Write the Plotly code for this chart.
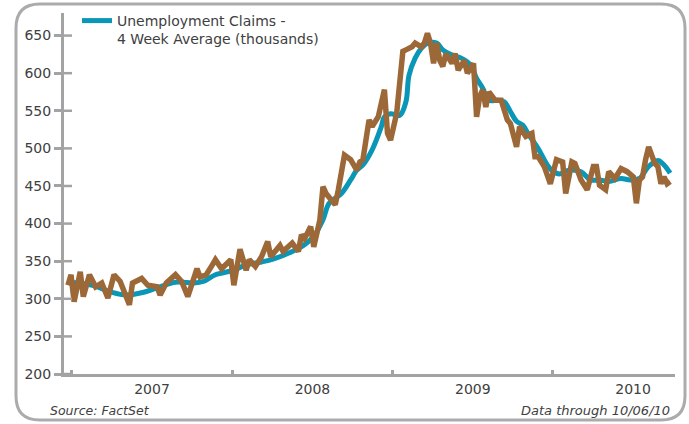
import pandas as pd
import plotly.graph_objects as go

# ---- data ----
start_week = "2006-12-16"  # week index 0 (week ending Saturday)

claims_week = [1, 2, 3, 5, 6, 8, 10, 12, 14, 16, 18, 20, 21, 22, 25, 27, 30, 31, 33, 36,
               38, 40, 42, 43, 44, 46, 48, 49, 51, 54, 55, 57, 59, 60, 62, 64, 66, 67, 70, 71,
               74, 76, 77, 78, 80, 81, 83, 84, 85, 87, 88, 89, 91, 93, 95, 96, 97, 99, 100, 102,
               103, 104, 105, 106, 108, 109, 110, 111, 113, 114, 116, 117, 118, 119, 120, 121, 122, 123, 124, 126,
               127, 128, 130, 131, 133, 134, 135, 136, 137, 138, 140, 142, 143, 144, 145, 147, 148, 150, 152, 153,
               154, 156, 158, 160, 162, 163, 165, 166, 168, 170, 172, 173, 174, 176, 177, 179, 181, 183, 185, 186,
               187, 188, 189, 190, 192, 193, 194, 195, 196, 197]
claims_value = [318, 332, 296, 336, 303, 332, 316, 321, 301, 332, 323, 305, 292, 321, 327, 318, 316, 305, 321, 332,
                323, 303, 329, 340, 329, 332, 345, 352, 340, 352, 318, 366, 338, 352, 343, 356, 376, 356, 371, 363,
                374, 363, 385, 380, 396, 369, 405, 449, 440, 429, 425, 445, 491, 485, 471, 482, 485, 538, 529, 542,
                564, 578, 520, 511, 547, 582, 629, 631, 635, 640, 635, 640, 653, 640, 613, 640, 617, 609, 626, 613,
                626, 604, 617, 600, 613, 542, 569, 578, 555, 575, 564, 564, 551, 538, 533, 502, 529, 516, 520, 489,
                489, 476, 453, 485, 482, 440, 482, 480, 458, 445, 476, 476, 451, 445, 469, 460, 473, 469, 462, 427,
                458, 462, 485, 502, 480, 476, 453, 462, 453, 456]

avg_week = [2, 9, 15, 20, 26, 31, 36, 42, 45, 49, 55, 59, 64, 68, 74, 78, 81, 84, 86, 90,
            93, 95, 97, 100, 103, 104, 106, 109, 111, 112, 114, 116, 118, 121, 123, 126, 129, 132, 134, 136,
            138, 141, 143, 145, 147, 149, 151, 154, 157, 159, 161, 164, 168, 171, 174, 177, 181, 184, 187, 190,
            193, 195, 197]
avg_value = [322, 318, 309, 305, 309, 316, 322, 321, 323, 332, 338, 345, 349, 353, 363, 372, 383, 405, 427, 440,
             458, 471, 478, 498, 529, 542, 546, 544, 562, 597, 620, 633, 640, 640, 631, 624, 620, 611, 593, 580,
             564, 564, 562, 549, 536, 531, 518, 500, 478, 469, 466, 471, 469, 458, 458, 456, 460, 458, 460, 476,
             484, 478, 467]

y_ticks = [200, 250, 300, 350, 400, 450, 500, 550, 600, 650]
legend_name = "Unemployment Claims -<br>4 Week Average (thousands)"
source_text = "Source: FactSet"
through_text = "Data through 10/06/10"

# ---- build ----
base = pd.Timestamp(start_week)
claims_dates = [base + pd.Timedelta(days=7 * k) for k in claims_week]
avg_dates = [base + pd.Timedelta(days=7 * k) for k in avg_week]

W, H = 689, 424
ML, MR, MT, MB = 64, 14, 13, 50
PW, PH = W - ML - MR, H - MT - MB

def px(x, y):
    return (x - ML) / PW, (H - MB - y) / PH

FONT = "DejaVu Sans"
TXT = "#404040"
AX = "#A3A3A3"
TEAL = "#0A96B6"
BROWN = "#9C6838"

fig = go.Figure()
fig.add_trace(go.Scatter(x=avg_dates, y=avg_value, mode="lines", name=legend_name,
                         line=dict(color=TEAL, width=5, shape="spline", smoothing=1.0)))
fig.add_trace(go.Scatter(x=claims_dates, y=claims_value, mode="lines", showlegend=False,
                         line=dict(color=BROWN, width=5.5)))

# rounded border
L, R, T, B, RAD = 16, 685, 4, 420, 24
def P(x, y):
    a, b = px(x, y)
    return f"{a:.5f},{b:.5f}"
path = (f"M {P(L+RAD, T)} L {P(R-RAD, T)} Q {P(R, T)} {P(R, T+RAD)} "
        f"L {P(R, B-RAD)} Q {P(R, B)} {P(R-RAD, B)} L {P(L+RAD, B)} "
        f"Q {P(L, B)} {P(L, B-RAD)} L {P(L, T+RAD)} Q {P(L, T)} {P(L+RAD, T)} Z")
shapes = [dict(type="path", xref="paper", yref="paper", path=path,
               line=dict(color="#ABABAB", width=3), layer="below")]
for v in y_ticks:
    shapes.append(dict(type="line", xref="paper", yref="y", xsizemode="pixel", xanchor=0,
                       x0=0, x1=8, y0=v, y1=v, line=dict(color=AX, width=2.5)))

sx, sy = px(48, 410)
dx, dy = px(672, 410)
annotations = [
    dict(text=source_text, xref="paper", yref="paper", x=sx, y=sy, xanchor="left", yanchor="middle",
         showarrow=False, font=dict(family=FONT, size=12.5, color=TXT, style="italic")),
    dict(text=through_text, xref="paper", yref="paper", x=dx, y=dy, xanchor="right", yanchor="middle",
         showarrow=False, font=dict(family=FONT, size=13, color=TXT, style="italic")),
]

lx, ly = px(77, 5)
fig.update_layout(
    width=W, height=H, margin=dict(l=ML, r=MR, t=MT, b=MB, autoexpand=False),
    paper_bgcolor="white", plot_bgcolor="white",
    font=dict(family=FONT, size=14, color=TXT),
    showlegend=True,
    legend=dict(x=lx, y=ly, xanchor="left", yanchor="top", bgcolor="rgba(0,0,0,0)",
                font=dict(family=FONT, size=14, color=TXT), valign="top",
                tracegroupgap=0, itemwidth=30),
    shapes=shapes, annotations=annotations,
    xaxis=dict(type="date", range=["2006-12-14", "2010-10-06"], dtick="M12", tick0="2007-01-01",
               tickformat="%Y", ticklabelmode="period", ticks="inside", ticklen=4, tickwidth=3,
               tickcolor=AX, showline=True, linecolor=AX, linewidth=3, showgrid=False,
               zeroline=False, tickfont=dict(family=FONT, size=14, color=TXT)),
    yaxis=dict(range=[200, 680], tickvals=y_ticks, ticks="outside", ticklen=7, tickwidth=2.5,
               tickcolor=AX, showline=True, linecolor=AX, linewidth=3, showgrid=False,
               zeroline=False, tickfont=dict(family=FONT, size=14, color=TXT)),
)

fig.write_html("out.html")
